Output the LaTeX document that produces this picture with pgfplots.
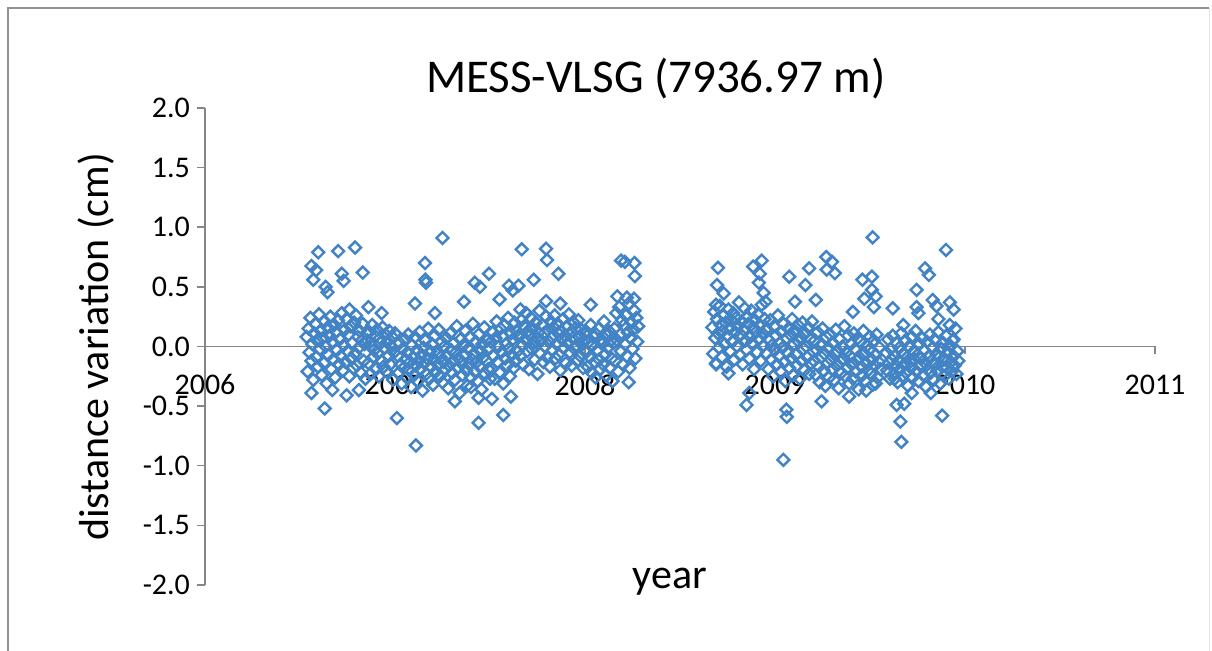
\documentclass[border=0pt]{standalone}
\usepackage{pgfplots}
\pgfplotsset{compat=1.18}
\usepackage{fontspec}
\setmainfont{Carlito}
\definecolor{markblue}{RGB}{65,131,197}
\definecolor{axisgray}{RGB}{134,134,134}
\definecolor{framegray}{RGB}{145,145,145}
\begin{document}
\begin{tikzpicture}
\path[use as bounding box] (0,0) rectangle (606pt,325.5pt);
% chart frame
\draw[framegray, line width=1pt] (4pt,-5pt) -- (4pt,321.5pt) -- (604.5pt,321.5pt);
\draw[black!10, line width=0.5pt] (604.5pt,321.5pt) -- (604.5pt,-5pt);
\begin{axis}[
  at={(102.5pt,33pt)}, anchor=south west,
  scale only axis, width=475pt, height=238.5pt,
  xmin=2006, xmax=2011, ymin=-2, ymax=2,
  axis x line*=middle, axis y line*=left,
  hide obscured x ticks=false, hide obscured y ticks=false,
  axis line style={draw=axisgray, line width=0.75pt},
  major tick style={draw=axisgray, line width=0.75pt},
  major tick length=4pt,
  tick align=outside,
  xtick={2006,2007,2008,2009,2010,2011},
  ytick={-2,-1.5,-1,-0.5,0,0.5,1,1.5,2},
  minor tick num=0,
  /pgf/number format/assume math mode=true,
  tick label style={font=\fontsize{15}{18}\selectfont, text=black},
  xticklabel style={/pgf/number format/1000 sep={}, yshift=-6.5pt},
  yticklabel style={/pgf/number format/fixed, /pgf/number format/fixed zerofill, /pgf/number format/precision=1},
  title={MESS-VLSG (7936.97 m)},
  title style={font=\fontsize{23.5}{28}\selectfont, at={(axis description cs:0.4747,1.0063)}, anchor=base},
  xlabel={year},
  xlabel style={font=\fontsize{21}{25}\selectfont, at={(axis description cs:0.4895,-0.0084)}, anchor=base},
  ylabel={distance variation (cm)},
  ylabel style={font=\fontsize{21}{25}\selectfont, at={(axis description cs:-0.1020,0.499)}, anchor=base, rotate=0},
  clip=false,
]
\addplot[only marks, mark=square, mark size=2.1pt,
  mark options={rotate=45, draw=markblue, fill=none, line width=1.2pt}]
coordinates {
(2006.535,0.08) (2006.540,-0.21) (2006.545,0.15) (2006.550,-0.05) (2006.555,0.24) (2006.560,-0.12) (2006.565,0.02) (2006.570,-0.28) (2006.575,0.11) (2006.580,0.19)
(2006.585,-0.09) (2006.590,0.05) (2006.595,-0.17) (2006.600,0.27) (2006.605,-0.02) (2006.610,0.13) (2006.615,-0.24) (2006.620,0.07) (2006.625,-0.14) (2006.630,0.21)
(2006.635,0.00) (2006.640,-0.31) (2006.645,0.16) (2006.650,-0.07) (2006.655,0.09) (2006.660,0.25) (2006.665,-0.19) (2006.670,0.04) (2006.675,-0.11) (2006.680,0.18)
(2006.685,-0.26) (2006.690,0.12) (2006.695,-0.03) (2006.700,0.22) (2006.705,-0.15) (2006.710,0.06) (2006.715,-0.08) (2006.720,0.28) (2006.725,-0.20) (2006.730,0.01)
(2006.735,0.14) (2006.740,-0.13) (2006.745,0.23) (2006.750,-0.04) (2006.755,0.10) (2006.760,-0.25) (2006.765,0.17) (2006.770,-0.10) (2006.775,0.03) (2006.780,-0.18)
(2006.785,0.20) (2006.790,-0.06) (2006.795,0.26) (2006.800,-0.16) (2006.805,0.08) (2006.810,-0.01) (2006.815,0.13) (2006.820,-0.22) (2006.825,0.05) (2006.830,0.19)
(2006.835,-0.12) (2006.840,0.02) (2006.845,-0.27) (2006.850,0.11)
(2006.855,0.05) (2006.860,-0.14) (2006.865,0.12) (2006.870,-0.23) (2006.875,0.01) (2006.880,0.18) (2006.885,-0.09) (2006.890,-0.03) (2006.895,0.09) (2006.900,-0.19)
(2006.905,0.14) (2006.910,-0.06) (2006.915,-0.25) (2006.920,0.07) (2006.925,0.03) (2006.930,-0.12) (2006.935,0.16) (2006.940,-0.17) (2006.945,-0.01) (2006.950,0.10)
(2006.955,-0.21) (2006.960,0.04) (2006.965,-0.08) (2006.970,0.13) (2006.975,-0.15) (2006.980,0.00) (2006.985,0.08) (2006.990,-0.28) (2006.995,-0.05) (2007.000,0.11)
(2007.015,-0.08) (2007.020,-0.22) (2007.025,0.03) (2007.030,-0.15) (2007.035,-0.31) (2007.040,-0.02) (2007.045,-0.18) (2007.050,0.06) (2007.055,-0.11) (2007.060,-0.26)
(2007.065,-0.05) (2007.070,0.10) (2007.075,-0.20) (2007.080,-0.13) (2007.085,-0.34) (2007.090,0.01) (2007.095,-0.09) (2007.100,-0.24) (2007.105,0.08) (2007.110,-0.16)
(2007.115,-0.03) (2007.120,-0.29) (2007.125,-0.12) (2007.130,0.12) (2007.135,-0.19) (2007.140,-0.07) (2007.145,-0.37) (2007.150,-0.01) (2007.155,-0.14) (2007.160,0.05)
(2007.165,-0.23) (2007.170,-0.10) (2007.175,0.15) (2007.180,-0.27) (2007.185,-0.04) (2007.190,-0.17) (2007.195,0.02) (2007.200,-0.32) (2007.205,-0.11) (2007.210,0.09)
(2007.215,-0.21) (2007.220,-0.06) (2007.225,-0.15) (2007.230,0.14) (2007.235,-0.25) (2007.240,-0.09) (2007.245,0.04) (2007.250,-0.30) (2007.255,-0.13) (2007.260,0.00)
(2007.265,-0.19) (2007.270,0.07) (2007.275,-0.08) (2007.280,-0.35) (2007.285,-0.16) (2007.290,0.11) (2007.295,-0.03) (2007.300,-0.22) (2007.305,-0.12) (2007.310,0.03)
(2007.315,-0.28) (2007.320,-0.05) (2007.325,0.17) (2007.330,-0.18) (2007.335,-0.10) (2007.340,-0.39) (2007.345,0.06) (2007.350,-0.14) (2007.355,-0.24) (2007.360,0.01)
(2007.365,-0.07) (2007.370,0.13) (2007.375,-0.20) (2007.380,-0.33) (2007.385,-0.02) (2007.390,-0.15) (2007.395,0.08) (2007.400,-0.26) (2007.405,-0.11) (2007.410,0.19)
(2007.415,-0.06) (2007.420,-0.21) (2007.425,0.04) (2007.430,-0.13) (2007.435,-0.29) (2007.440,0.10) (2007.445,-0.17) (2007.450,-0.04) (2007.455,-0.36) (2007.460,0.02)
(2007.465,-0.09) (2007.470,0.16) (2007.475,-0.23) (2007.480,-0.12) (2007.485,0.05) (2007.490,-0.19) (2007.495,-0.01) (2007.500,-0.27)
(2007.505,0.04) (2007.510,-0.19) (2007.515,0.12) (2007.520,-0.08) (2007.525,-0.27) (2007.530,0.07) (2007.535,0.21) (2007.540,-0.13) (2007.545,0.00) (2007.550,-0.22)
(2007.555,0.15) (2007.560,-0.05) (2007.565,0.09) (2007.570,-0.31) (2007.575,0.18) (2007.580,-0.10) (2007.585,0.02) (2007.590,-0.16) (2007.595,0.24) (2007.600,-0.02)
(2007.605,-0.25) (2007.610,0.11) (2007.615,-0.07) (2007.620,0.06) (2007.625,-0.18) (2007.630,0.20) (2007.635,-0.12) (2007.640,0.13) (2007.645,-0.04) (2007.650,0.08)
(2007.655,0.10) (2007.660,-0.08) (2007.665,0.22) (2007.670,0.01) (2007.675,-0.15) (2007.680,0.17) (2007.685,0.06) (2007.690,0.28) (2007.695,-0.04) (2007.700,0.13)
(2007.705,-0.19) (2007.710,0.09) (2007.715,0.24) (2007.720,-0.02) (2007.725,0.15) (2007.730,0.03) (2007.735,-0.11) (2007.740,0.20) (2007.745,0.07) (2007.750,-0.23)
(2007.755,0.12) (2007.760,0.30) (2007.765,-0.06) (2007.770,0.05) (2007.775,0.18) (2007.780,-0.13) (2007.785,0.11) (2007.790,0.00) (2007.795,0.25) (2007.800,-0.09)
(2007.805,0.14) (2007.810,0.04) (2007.815,-0.17) (2007.820,0.21) (2007.825,0.08) (2007.830,-0.03) (2007.835,0.16) (2007.840,0.26) (2007.845,-0.10) (2007.850,0.02)
(2007.855,0.19) (2007.860,-0.07) (2007.865,0.10) (2007.870,-0.20) (2007.875,0.13) (2007.880,0.06) (2007.885,0.23) (2007.890,-0.01) (2007.895,0.09) (2007.900,-0.14)
(2007.905,0.17) (2007.910,0.03) (2007.915,0.27) (2007.920,-0.05) (2007.925,0.12) (2007.930,-0.16) (2007.935,0.07) (2007.940,0.20) (2007.945,-0.02) (2007.950,0.15)
(2007.955,0.01) (2007.960,-0.12) (2007.965,0.22) (2007.970,0.08) (2007.975,-0.08) (2007.980,0.14) (2007.985,0.04) (2007.990,-0.18) (2007.995,0.11) (2008.000,0.05)
(2008.005,-0.05) (2008.010,0.12) (2008.015,-0.17) (2008.020,0.04) (2008.025,-0.09) (2008.030,0.18) (2008.035,-0.22) (2008.040,0.01) (2008.045,0.08) (2008.050,-0.13)
(2008.055,-0.26) (2008.060,0.10) (2008.065,-0.03) (2008.070,0.15) (2008.075,-0.11) (2008.080,-0.19) (2008.085,0.06) (2008.090,0.02) (2008.095,-0.15) (2008.100,0.21)
(2008.105,-0.07) (2008.110,-0.24) (2008.115,0.09) (2008.120,-0.01) (2008.125,0.13) (2008.130,-0.18) (2008.135,0.05) (2008.140,-0.10) (2008.145,-0.29) (2008.150,0.03)
(2008.155,0.15) (2008.160,-0.12) (2008.165,0.28) (2008.170,0.05) (2008.175,-0.21) (2008.180,0.33) (2008.185,0.10) (2008.190,-0.04) (2008.195,0.22) (2008.200,-0.15)
(2008.205,0.18) (2008.210,0.02) (2008.215,0.26) (2008.220,-0.08) (2008.225,0.12) (2008.230,0.36) (2008.235,-0.18) (2008.240,0.07) (2008.245,0.20) (2008.250,-0.02)
(2008.255,0.14) (2008.260,0.30) (2008.265,-0.10) (2008.270,0.24) (2008.275,0.04) (2008.280,0.17)
(2008.670,0.16) (2008.675,-0.06) (2008.680,0.29) (2008.685,0.07) (2008.690,-0.14) (2008.695,0.23) (2008.700,0.11) (2008.705,-0.01) (2008.710,0.34) (2008.715,0.18)
(2008.720,-0.09) (2008.725,0.13) (2008.730,0.26) (2008.735,0.02) (2008.740,0.20) (2008.745,-0.17) (2008.750,0.09) (2008.755,0.31) (2008.760,0.15) (2008.765,-0.04)
(2008.770,0.22) (2008.775,0.04) (2008.780,0.28) (2008.785,-0.11) (2008.790,0.12) (2008.795,0.24) (2008.800,0.00) (2008.805,0.17) (2008.810,0.37) (2008.815,-0.07)
(2008.820,0.10) (2008.825,0.21) (2008.830,-0.15) (2008.835,0.14) (2008.840,0.32) (2008.845,0.05) (2008.850,-0.03) (2008.855,0.25) (2008.860,0.19) (2008.865,-0.10)
(2008.870,0.08) (2008.875,0.30) (2008.880,0.03) (2008.885,0.16) (2008.890,-0.19) (2008.895,0.22) (2008.900,0.12) (2008.905,-0.05) (2008.910,0.27) (2008.915,0.06)
(2008.920,0.18) (2008.925,-0.12) (2008.930,0.35) (2008.935,0.11) (2008.940,0.01) (2008.945,0.23) (2008.950,0.14)
(2008.955,-0.06) (2008.960,0.14) (2008.965,-0.19) (2008.970,0.05) (2008.975,0.22) (2008.980,-0.11) (2008.985,0.01) (2008.990,-0.25) (2008.995,0.17) (2009.000,-0.03)
(2009.005,0.09) (2009.010,-0.15) (2009.015,0.26) (2009.020,-0.08) (2009.025,0.03) (2009.030,-0.21) (2009.035,0.12) (2009.040,-0.01) (2009.045,0.19) (2009.050,-0.13)
(2009.055,-0.29) (2009.060,0.07) (2009.065,-0.05) (2009.070,0.15) (2009.075,-0.18) (2009.080,0.10) (2009.085,-0.10) (2009.090,0.23) (2009.095,-0.24) (2009.100,0.02)
(2009.105,0.13) (2009.110,-0.07) (2009.115,-0.16) (2009.120,0.18) (2009.125,0.04) (2009.130,-0.27) (2009.135,0.08) (2009.140,-0.12) (2009.145,0.20) (2009.150,-0.02)
(2009.155,-0.20) (2009.160,0.11) (2009.165,0.00) (2009.170,-0.09) (2009.175,0.16) (2009.180,-0.23) (2009.185,0.06) (2009.190,-0.14) (2009.195,0.21) (2009.200,-0.04)
(2009.205,-0.12) (2009.210,0.05) (2009.215,-0.24) (2009.220,-0.03) (2009.225,0.12) (2009.230,-0.17) (2009.235,-0.30) (2009.240,0.01) (2009.245,-0.09) (2009.250,0.15)
(2009.255,-0.20) (2009.260,-0.06) (2009.265,-0.33) (2009.270,0.08) (2009.275,-0.14) (2009.280,-0.01) (2009.285,-0.26) (2009.290,0.10) (2009.295,-0.11) (2009.300,-0.19)
(2009.305,0.03) (2009.310,-0.28) (2009.315,-0.07) (2009.320,0.14) (2009.325,-0.16) (2009.330,-0.04) (2009.335,-0.35) (2009.340,0.06) (2009.345,-0.13) (2009.350,-0.22)
(2009.355,0.00) (2009.360,-0.10) (2009.365,0.17) (2009.370,-0.25) (2009.375,-0.05) (2009.380,-0.18) (2009.385,0.09) (2009.390,-0.31) (2009.395,-0.08) (2009.400,0.02)
(2009.405,-0.15) (2009.410,-0.27) (2009.415,0.11) (2009.420,-0.02) (2009.425,-0.21) (2009.430,-0.12) (2009.435,0.07) (2009.440,-0.36) (2009.445,-0.09) (2009.450,0.04)
(2009.455,-0.17) (2009.460,-0.24) (2009.465,0.13) (2009.470,-0.06) (2009.475,-0.29) (2009.480,-0.14) (2009.485,0.01) (2009.490,-0.20) (2009.495,-0.03) (2009.500,0.08)
(2009.505,-0.23) (2009.510,-0.11) (2009.515,-0.32) (2009.520,0.05) (2009.525,-0.16) (2009.530,-0.07) (2009.535,0.10) (2009.540,-0.26) (2009.545,-0.13) (2009.550,-0.01)
(2009.555,-0.19)
(2009.585,-0.05) (2009.590,-0.20) (2009.595,0.06) (2009.600,-0.14) (2009.605,-0.27) (2009.610,-0.02) (2009.615,-0.11) (2009.620,0.09) (2009.625,-0.23) (2009.630,-0.08)
(2009.635,-0.16) (2009.640,0.03) (2009.645,-0.30) (2009.650,-0.12) (2009.655,-0.01) (2009.660,-0.19) (2009.665,0.11) (2009.670,-0.25) (2009.675,-0.06) (2009.680,-0.15)
(2009.685,0.05) (2009.690,-0.22) (2009.695,-0.09) (2009.700,-0.33) (2009.705,0.00) (2009.710,-0.13) (2009.715,-0.18) (2009.720,0.08) (2009.725,-0.26) (2009.730,-0.04)
(2009.735,-0.11) (2009.740,0.13) (2009.745,-0.21) (2009.750,-0.07) (2009.755,-0.29) (2009.760,0.02) (2009.765,-0.16) (2009.770,-0.10) (2009.775,0.07) (2009.780,-0.24)
(2009.785,-0.03) (2009.790,-0.14) (2009.795,-0.34) (2009.800,0.04) (2009.805,-0.19) (2009.810,-0.08) (2009.815,0.10) (2009.820,-0.22) (2009.825,-0.12) (2009.830,-0.01)
(2009.835,-0.28) (2009.840,0.06) (2009.845,-0.15) (2009.850,-0.06) (2009.855,-0.20) (2009.860,0.12) (2009.865,-0.09) (2009.870,-0.31) (2009.875,-0.02) (2009.880,-0.17)
(2009.885,0.03) (2009.890,-0.25) (2009.895,-0.11) (2009.900,0.09) (2009.905,-0.18) (2009.910,-0.05) (2009.915,-0.27) (2009.920,0.01) (2009.925,-0.13) (2009.930,-0.21)
(2009.935,0.05) (2009.940,-0.08) (2009.945,-0.16) (2009.950,0.15) (2009.955,-0.23) (2009.960,-0.04) (2009.965,-0.12)
(2006.560,0.675) (2006.585,0.64) (2006.570,0.56) (2006.596,0.79) (2006.635,0.50) (2006.645,0.455) (2006.701,0.80) (2006.720,0.61) (2006.730,0.55) (2006.790,0.83)
(2006.830,0.62) (2006.760,0.31) (2006.860,0.33) (2006.930,0.28) (2007.105,0.36) (2007.158,0.70) (2007.160,0.56) (2007.163,0.535) (2007.210,0.28) (2007.250,0.91)
(2007.363,0.375) (2007.420,0.535) (2007.447,0.50) (2007.495,0.61) (2007.550,0.395) (2007.600,0.51) (2007.620,0.47) (2007.650,0.51) (2007.660,0.31) (2007.667,0.815)
(2007.730,0.56) (2007.795,0.82) (2007.800,0.725) (2007.795,0.38) (2007.860,0.61) (2007.870,0.36) (2008.030,0.35) (2008.170,0.42) (2008.190,0.72) (2008.210,0.71)
(2008.220,0.41) (2008.260,0.70) (2008.262,0.59) (2008.258,0.40)
(2006.560,-0.39) (2006.630,-0.52) (2006.670,-0.365) (2006.745,-0.41) (2006.810,-0.365) (2007.010,-0.60) (2007.110,-0.83) (2007.315,-0.46) (2007.440,-0.64) (2007.440,-0.43)
(2007.510,-0.44) (2007.570,-0.575) (2007.610,-0.42) (2008.230,-0.30) (2007.400,-0.34)
(2008.690,0.35) (2008.695,0.515) (2008.700,0.66) (2008.730,0.445) (2008.885,0.67) (2008.915,0.535) (2008.920,0.61) (2008.930,0.72) (2008.940,0.45) (2008.950,0.375)
(2009.075,0.585) (2009.105,0.375) (2009.160,0.515) (2009.180,0.655) (2009.215,0.39) (2009.270,0.75) (2009.272,0.645) (2009.300,0.71) (2009.315,0.615) (2009.410,0.29)
(2009.460,0.56) (2009.470,0.40) (2009.510,0.585) (2009.510,0.475) (2009.514,0.915) (2009.520,0.33) (2009.530,0.42) (2009.620,0.32) (2009.675,0.18) (2009.745,0.475)
(2009.745,0.33) (2009.755,0.28) (2009.790,0.655) (2009.810,0.60) (2009.830,0.39) (2009.850,0.34) (2009.860,0.23) (2009.900,0.81) (2009.920,0.37) (2009.920,0.18)
(2009.940,0.31) (2009.940,0.06)
(2008.690,-0.15) (2008.755,-0.225) (2008.850,-0.49) (2008.865,-0.39) (2009.044,-0.95) (2009.060,-0.53) (2009.062,-0.59) (2009.245,-0.46) (2009.390,-0.42) (2009.480,-0.37)
(2009.530,-0.31) (2009.630,-0.27) (2009.640,-0.49) (2009.660,-0.63) (2009.665,-0.80) (2009.680,-0.48) (2009.720,-0.39) (2009.820,-0.39) (2009.880,-0.58)
};
\end{axis}
\end{tikzpicture}
\end{document}
